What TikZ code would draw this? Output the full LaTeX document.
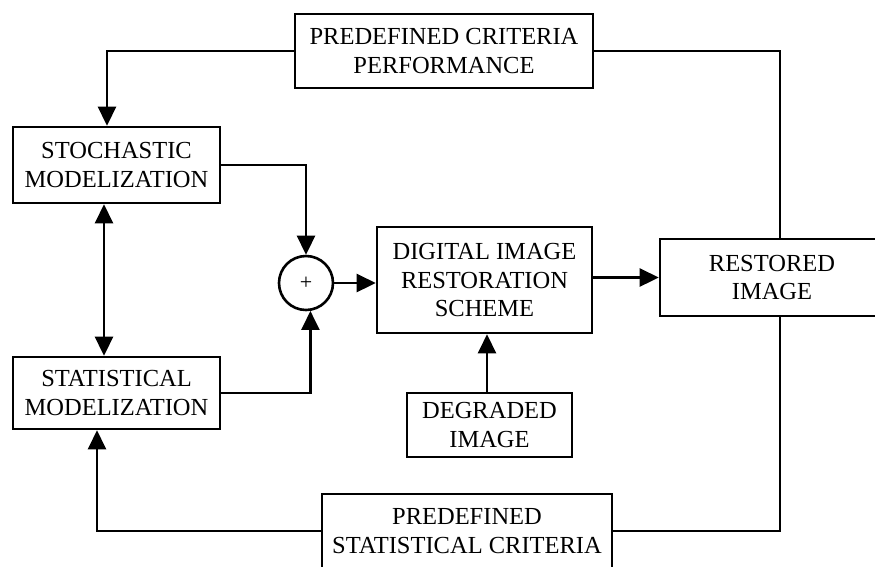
\documentclass[tikz,border=0pt]{standalone}
\usepackage{fontspec}
\setmainfont{Liberation Serif}
\usetikzlibrary{arrows.meta,calc}
\begin{document}
\begin{tikzpicture}[x=1pt,y=-1pt,
  box/.style={draw,line width=2.6pt,align=center,inner sep=0pt,
    font=\fontsize{24.5}{28.5}\selectfont},
  conn/.style={line width=2.6pt},
  arr/.style={conn,-{Triangle[length=19pt,width=18pt]}},
  darr/.style={conn,{Triangle[length=19pt,width=18pt]}-{Triangle[length=19pt,width=18pt]}}]
\useasboundingbox (0,0) rectangle (875,566);
\node[box,minimum width=298pt,minimum height=74pt] (top) at (444,51) {PREDEFINED CRITERIA\\PERFORMANCE};
\node[box,minimum width=207pt,minimum height=76pt] (stoch) at (116.5,165) {STOCHASTIC\\MODELIZATION};
\node[box,minimum width=207pt,minimum height=72pt] (stat) at (116.5,393) {STATISTICAL\\MODELIZATION};
\node[draw,circle,line width=2.6pt,minimum size=54pt,inner sep=0pt,font=\fontsize{22}{24}\selectfont] (sum) at (306,283) {+};
\node[box,minimum width=215pt,minimum height=106pt] (dirs) at (484.5,280) {DIGITAL IMAGE\\RESTORATION\\SCHEME};
\node[box,minimum width=224pt,minimum height=77pt] (rest) at (772,277.5) {RESTORED\\IMAGE};
\node[box,minimum width=165pt,minimum height=64pt] (deg) at (489.5,425) {DEGRADED\\IMAGE};
\node[box,minimum width=290pt,minimum height=74pt] (bot) at (467,531) {PREDEFINED\\STATISTICAL CRITERIA};
% connectors
\draw[arr] (top.west) -| ([xshift=-9.5pt]stoch.north);
\draw[conn] (top.east) -| ([xshift=8pt]rest.north);
\draw[arr] (stoch.east) -| (sum.north);
\draw[arr] (stat.east) -| (sum.-81);
\draw[darr] ([xshift=-12.5pt]stoch.south) -- ([xshift=-12.5pt]stat.north);
\draw[arr] (sum.east) -- (sum.east -| dirs.west);
\draw[arr] (rest.west -| dirs.east) -- (rest.west);
\draw[arr] (deg.north -| 487,0) -- (dirs.south -| 487,0);
\draw[arr] (bot.west) -| ([xshift=-19.5pt]stat.south);
\draw[conn] (bot.east) -| ([xshift=8pt]rest.south);
\end{tikzpicture}
\end{document}
